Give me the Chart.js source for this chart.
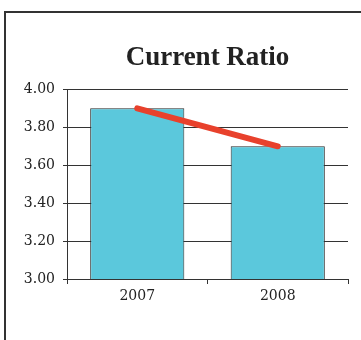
<!DOCTYPE html>
<html>
<head>
<meta charset="utf-8">
<script src="https://cdn.jsdelivr.net/npm/chart.js@4"></script>
<style>
  html, body { margin: 0; padding: 0; background: #fff; }
  #wrap { position: relative; width: 361px; height: 340px; overflow: hidden; }
  #frame { position: absolute; left: 4px; top: 11px; width: 420px; height: 400px;
           border-left: 2px solid #333; border-top: 2px solid #333; }
  canvas { position: absolute; left: 0; top: 0; }
</style>
</head>
<body>
<div id="wrap">
  <div id="frame"></div>
  <canvas id="c" width="361" height="340"></canvas>
</div>
<script>
const categories = ['2007', '2008'];
const ratioValues = [3.90, 3.70];
const trendValues = [3.90, 3.70];
const yMin = 3.00, yMax = 4.00, yStep = 0.20;
const titleText = 'Current Ratio';

const centerTitleOnArea = {
  id: 'centerTitleOnArea',
  afterLayout(chart) {
    const t = chart.titleBlock;
    if (t) {
      t.left = chart.chartArea.left;
      t.right = chart.chartArea.right;
      t.width = t.right - t.left;
    }
  }
};

new Chart(document.getElementById('c'), {
  data: {
    labels: categories,
    datasets: [
      {
        type: 'line',
        data: trendValues,
        borderColor: '#E8412C',
        borderWidth: 6,
        borderCapStyle: 'round',
        pointRadius: 0,
        fill: false,
        tension: 0
      },
      {
        type: 'bar',
        data: ratioValues,
        backgroundColor: '#5BC8DC',
        borderColor: '#2a2a2a',
        borderWidth: 1,
        borderSkipped: false,
        categoryPercentage: 1.0,
        barPercentage: 0.67
      }
    ]
  },
  plugins: [centerTitleOnArea],
  options: {
    responsive: false,
    animation: false,
    layout: { padding: { left: 0, right: 13, top: 0, bottom: 0 } },
    plugins: {
      legend: { display: false },
      tooltip: { enabled: false },
      title: {
        display: true,
        text: titleText,
        color: '#222',
        font: { family: 'Liberation Serif', size: 27, weight: 'bold', lineHeight: 1.2 },
        padding: { top: 42, bottom: 15 }
      }
    },
    scales: {
      x: {
        grid: { offset: true, drawOnChartArea: false, drawTicks: true, tickLength: 5, color: '#333', lineWidth: 1 },
        border: { display: true, color: '#333', width: 1 },
        ticks: { color: '#222', font: { family: 'DejaVu Serif', size: 14 }, padding: 4 },
        afterFit: (s) => { s.height = 61; }
      },
      y: {
        min: yMin, max: yMax,
        grid: { color: '#333', lineWidth: 1, drawTicks: true, tickLength: 4 },
        border: { display: true, color: '#333', width: 1 },
        ticks: {
          stepSize: yStep,
          color: '#222',
          font: { family: 'DejaVu Serif', size: 14 },
          padding: 8,
          callback: (v) => Number(v).toFixed(2)
        },
        afterFit: (s) => { s.width = 67; }
      }
    }
  }
});
</script>
</body>
</html>
